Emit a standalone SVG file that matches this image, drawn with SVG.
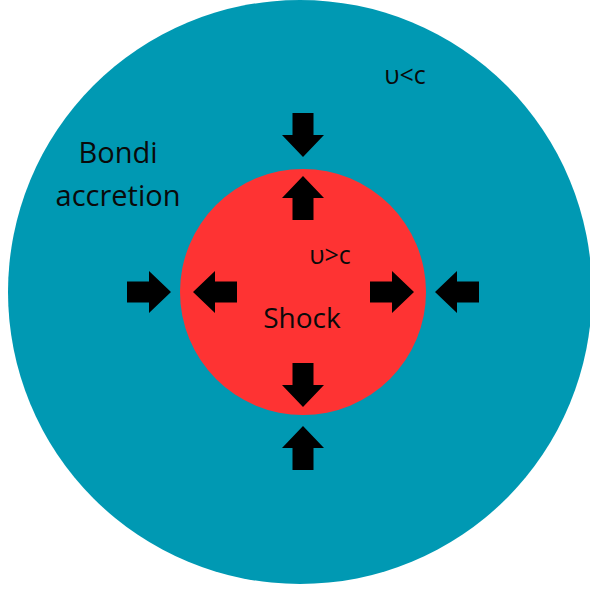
<svg xmlns="http://www.w3.org/2000/svg" xmlns:xlink="http://www.w3.org/1999/xlink" width="590" height="590" viewBox="0 0 590 590">
<style>
.t{font-family:"Open Sans","Noto Sans",sans-serif;fill:#0a0a0a;}
.arr{fill:#000;}
</style>
<defs>
<path id="a" d="M0,-10.5 H22 V-21 L44,0 L22,21 V10.5 H0 Z"/>
</defs>
<rect width="590" height="590" fill="#fff"/>
<g id="bondi">
<circle cx="300" cy="292" r="292" fill="#0099b3"/>
<text class="t" x="118" y="163" font-size="29" text-anchor="middle">Bondi</text>
<text class="t" x="118" y="206" font-size="29" text-anchor="middle">accretion</text>
<text class="t" x="405" y="84" font-size="25" text-anchor="middle">υ&lt;c</text>
</g>
<g id="shock">
<circle cx="303" cy="292" r="123" fill="#fe3333"/>
<text class="t" x="302" y="328" font-size="28" text-anchor="middle">Shock</text>
<text class="t" x="330" y="264" font-size="25" text-anchor="middle">υ&gt;c</text>
</g>
<g id="connectors" class="arr">
<use xlink:href="#a" transform="translate(303,113) rotate(90)"/>
<use xlink:href="#a" transform="translate(303,220) rotate(-90)"/>
<use xlink:href="#a" transform="translate(303,363) rotate(90)"/>
<use xlink:href="#a" transform="translate(303,470) rotate(-90)"/>
<use xlink:href="#a" transform="translate(127,292)"/>
<use xlink:href="#a" transform="translate(237,292) rotate(180)"/>
<use xlink:href="#a" transform="translate(370,292)"/>
<use xlink:href="#a" transform="translate(479,292) rotate(180)"/>
</g>
</svg>
